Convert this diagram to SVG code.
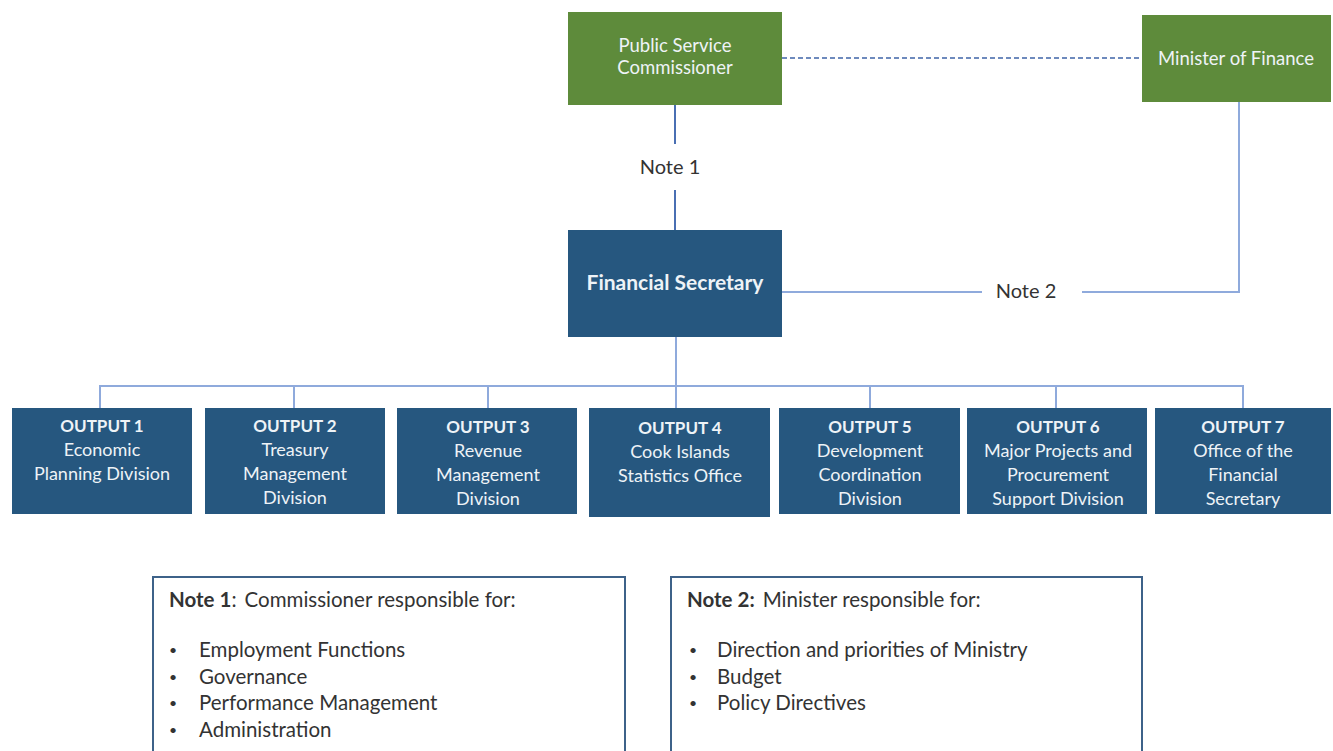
<svg xmlns="http://www.w3.org/2000/svg" width="1333" height="751" viewBox="0 0 1333 751">
<style>
.green{fill:#5E8B3B;}
.blue{fill:#26577F;}
.t{font-family:Lato,"Liberation Sans",sans-serif;fill:#EEF3F7;text-anchor:middle;font-size:18px;}
.g{font-size:18.5px;}
.h{font-weight:bold;font-size:17px;}
.fs{font-weight:bold;font-size:21px;}
.lbl{font-family:Lato,"Liberation Sans",sans-serif;fill:#333;font-size:20px;text-anchor:middle;}
.note{font-family:Lato,"Liberation Sans",sans-serif;fill:#333;font-size:20.5px;}
.bul{font-family:Lato,"Liberation Sans",sans-serif;fill:#333;font-size:14px;}
.ln{stroke:#8FAADC;stroke-width:2;fill:none;}
.nb{fill:#fff;stroke:#3E6289;stroke-width:2;}
</style>
<rect width="1333" height="751" fill="#fff"/>
<g id="connectors">
<line x1="782" y1="58" x2="1142" y2="58" stroke="#3F64A8" stroke-width="1.6" stroke-dasharray="5,3"/>
<line x1="675" y1="105" x2="675" y2="144" stroke="#4A6FB3" stroke-width="2"/>
<line x1="675" y1="190" x2="675" y2="230" stroke="#4A6FB3" stroke-width="2"/>
<polyline class="ln" points="782,292 982,292"/>
<polyline class="ln" points="1082,292 1239,292 1239,102"/>
<line class="ln" x1="676" y1="337" x2="676" y2="408"/>
<polyline class="ln" points="100,408 100,386 1243,386 1243,408"/>
<line class="ln" x1="294" y1="386" x2="294" y2="408"/>
<line class="ln" x1="488" y1="386" x2="488" y2="408"/>
<line class="ln" x1="870" y1="386" x2="870" y2="408"/>
<line class="ln" x1="1056" y1="386" x2="1056" y2="408"/>
<text class="lbl" x="670" y="174">Note 1</text>
<text class="lbl" x="1026" y="298">Note 2</text>
</g>
<g id="psc">
<rect class="green" x="568" y="12" width="214" height="93"/>
<text class="t g" x="675" y="52">Public Service</text>
<text class="t g" x="675" y="74">Commissioner</text>
</g>
<g id="minister">
<rect class="green" x="1142" y="15" width="189" height="87"/>
<text class="t g" x="1236" y="65">Minister of Finance</text>
</g>
<g id="fs">
<rect class="blue" x="568" y="230" width="214" height="107"/>
<text class="t fs" x="675" y="290">Financial Secretary</text>
</g>
<g id="out1">
<rect class="blue" x="12" y="408" width="180" height="106"/>
<text class="t h" x="102" y="432">OUTPUT 1</text>
<text class="t" x="102" y="456">Economic</text>
<text class="t" x="102" y="480">Planning Division</text>
</g>
<g id="out2">
<rect class="blue" x="205" y="408" width="180" height="106"/>
<text class="t h" x="295" y="432">OUTPUT 2</text>
<text class="t" x="295" y="456">Treasury</text>
<text class="t" x="295" y="480">Management</text>
<text class="t" x="295" y="504">Division</text>
</g>
<g id="out3">
<rect class="blue" x="397" y="408" width="180" height="106"/>
<text class="t h" x="488" y="433">OUTPUT 3</text>
<text class="t" x="488" y="457">Revenue</text>
<text class="t" x="488" y="481">Management</text>
<text class="t" x="488" y="505">Division</text>
</g>
<g id="out4">
<rect class="blue" x="589" y="408" width="181" height="109"/>
<text class="t h" x="680" y="434">OUTPUT 4</text>
<text class="t" x="680" y="458">Cook Islands</text>
<text class="t" x="680" y="482">Statistics Office</text>
</g>
<g id="out5">
<rect class="blue" x="779" y="408" width="181" height="106"/>
<text class="t h" x="870" y="433">OUTPUT 5</text>
<text class="t" x="870" y="457">Development</text>
<text class="t" x="870" y="481">Coordination</text>
<text class="t" x="870" y="505">Division</text>
</g>
<g id="out6">
<rect class="blue" x="967" y="408" width="180" height="106"/>
<text class="t h" x="1058" y="433">OUTPUT 6</text>
<text class="t" x="1058" y="457">Major Projects and</text>
<text class="t" x="1058" y="481">Procurement</text>
<text class="t" x="1058" y="505">Support Division</text>
</g>
<g id="out7">
<rect class="blue" x="1155" y="408" width="176" height="106"/>
<text class="t h" x="1243" y="433">OUTPUT 7</text>
<text class="t" x="1243" y="457">Office of the</text>
<text class="t" x="1243" y="481">Financial</text>
<text class="t" x="1243" y="505">Secretary</text>
</g>
<g id="note1">
<rect class="nb" x="153" y="577" width="472" height="190"/>
<text class="note" x="169" y="607"><tspan font-weight="bold">Note 1</tspan>:<tspan dx="8">Commissioner responsible for:</tspan></text>
<text class="bul" x="169" y="655">•</text><text class="note" x="199" y="657">Employment Functions</text>
<text class="bul" x="169" y="682">•</text><text class="note" x="199" y="684">Governance</text>
<text class="bul" x="169" y="708">•</text><text class="note" x="199" y="710">Performance Management</text>
<text class="bul" x="169" y="735">•</text><text class="note" x="199" y="737">Administration</text>
</g>
<g id="note2">
<rect class="nb" x="671" y="577" width="471" height="190"/>
<text class="note" x="687" y="607"><tspan font-weight="bold">Note 2:</tspan><tspan dx="8">Minister responsible for:</tspan></text>
<text class="bul" x="689" y="655">•</text><text class="note" x="717" y="657">Direction and priorities of Ministry</text>
<text class="bul" x="689" y="682">•</text><text class="note" x="717" y="684">Budget</text>
<text class="bul" x="689" y="708">•</text><text class="note" x="717" y="710">Policy Directives</text>
</g>
</svg>
